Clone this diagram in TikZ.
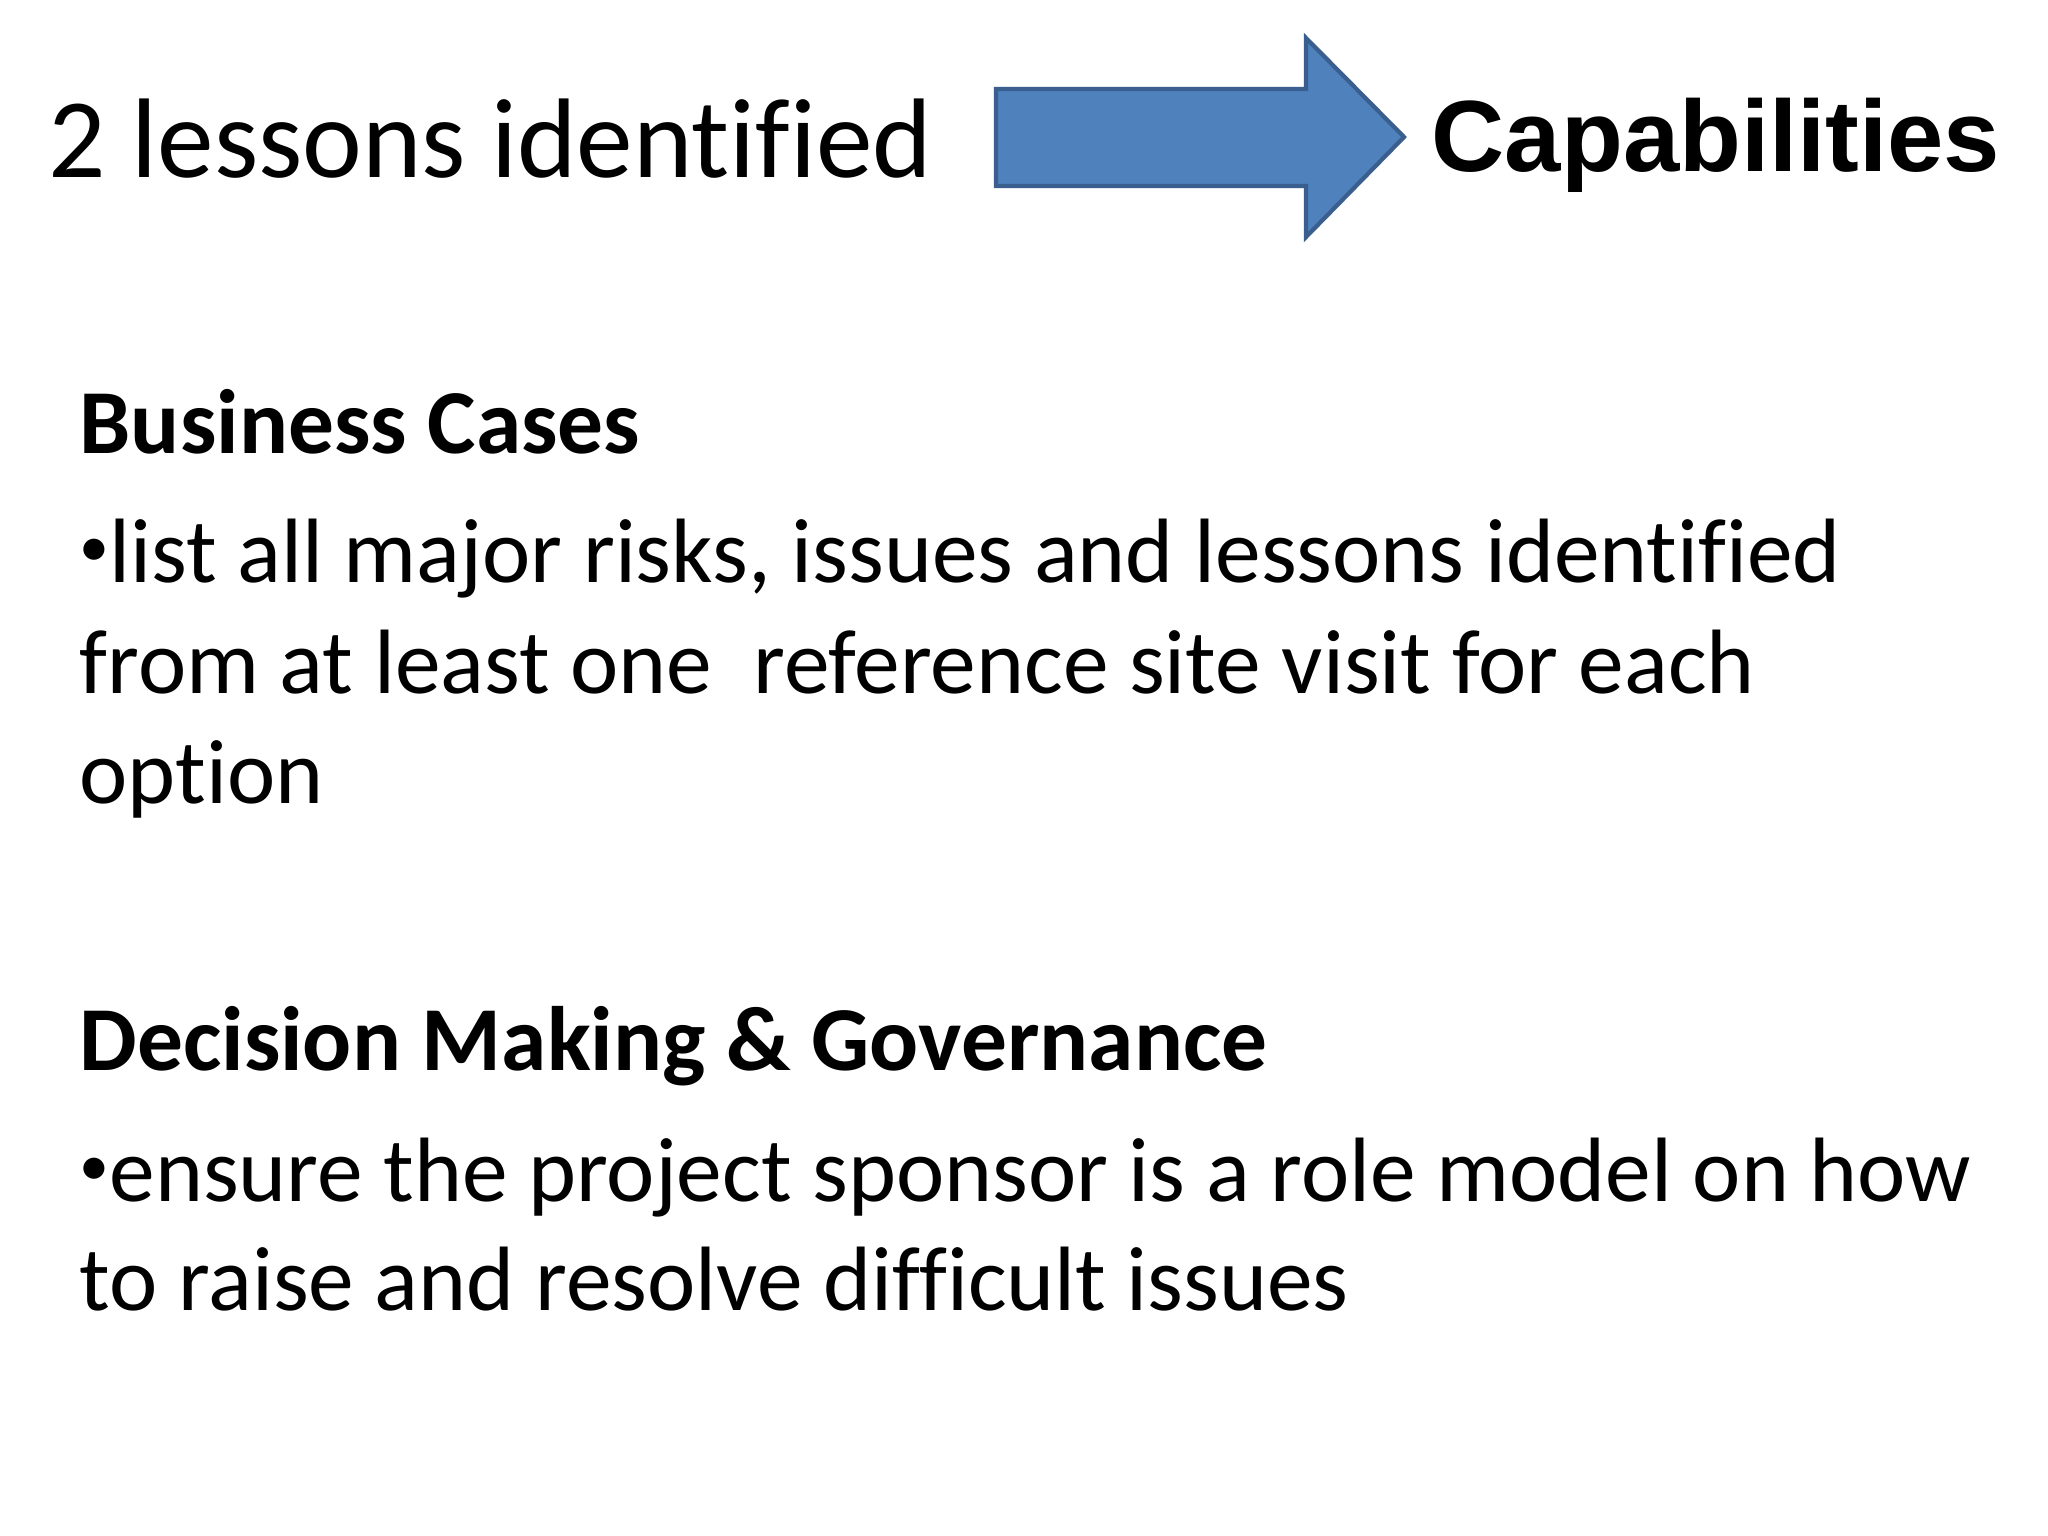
\documentclass[tikz,border=0pt]{standalone}
\usepackage{fontspec}
\setmainfont[Ligatures=NoCommon]{Carlito}
\newfontfamily\arialfont{Liberation Sans}
\definecolor{arrfill}{HTML}{4F81BD}
\definecolor{arrline}{HTML}{3A5F8E}
\newcommand{\smbul}{{\fontsize{17}{17}\selectfont\raisebox{0.55ex}{•}}}
\begin{document}
\begin{tikzpicture}[x=0.01cm,y=-0.01cm,
  txt/.style={anchor=base west,inner sep=0,font=\fontsize{26}{31}\selectfont},
  head/.style={anchor=base west,inner sep=0,font=\fontsize{26}{31}\selectfont\bfseries}]
\useasboundingbox[fill=white] (0,0) rectangle (2048,1536);
\node[txt,font=\fontsize{32.2}{38}\selectfont] (title) at (48,177) {2 lessons identified};
\draw[fill=arrfill,draw=arrline,line width=1.2pt] (996,89) -- (1306,89) -- (1306,38) -- (1404,137) -- (1306,237) -- (1306,186) -- (996,186) -- cycle;
\node[anchor=base west,inner sep=0,font=\fontsize{28.8}{34}\selectfont\arialfont\bfseries] (cap) at (1431,171) {Capabilities};
\node[head] (h1) at (79,453) {Business Cases};
\node[txt] (l1) at (79,582) {\smbul list all major risks, issues and lessons identified};
\node[txt] (l2) at (79,693) {from at least one\ \ reference site visit for each};
\node[txt] (l3) at (79,803) {option};
\node[head] (h2) at (79,1070) {Decision Making \& Governance};
\node[txt] (l4) at (79,1201) {\smbul ensure the project sponsor is a role model on how};
\node[txt] (l5) at (79,1310) {to raise and resolve difficult issues};
\end{tikzpicture}
\end{document}
